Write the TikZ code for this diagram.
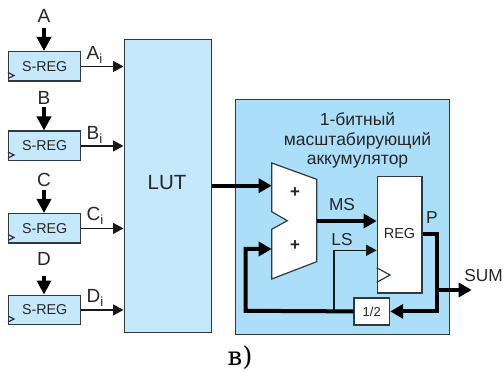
\documentclass[tikz,border=0pt]{standalone}
\usepackage{fontspec}
\setmainfont{Liberation Sans}
\newfontfamily\serifcyr{DejaVu Serif}
\usetikzlibrary{arrows.meta,calc}
\definecolor{lightb}{HTML}{C5E8FB}
\definecolor{accb}{HTML}{ABDFF9}
\definecolor{edge}{HTML}{2E3A40}
\tikzset{
  x=1pt,y=-1pt,
  sreg/.style={draw=edge,line width=1.4pt,fill=lightb,minimum width=72pt,minimum height=29.5pt,inner sep=0pt,font=\fontsize{14.3}{14.3}\selectfont,text=black!85,anchor=north west},
  lab/.style={inner sep=0pt,font=\fontsize{19}{19}\selectfont,text=black!85},
  small/.style={inner sep=0pt,font=\fontsize{17.3}{17.3}\selectfont,text=black!85},
  thin wire/.style={draw=black!90,line width=1.4pt,-{Triangle[length=10.5pt,width=11pt]}},
  thick wire/.style={draw=black,line width=4pt,-{Triangle[length=13pt,width=14pt]}},
  clk/.style={draw=edge,line width=1.2pt}
}
\begin{document}
\begin{tikzpicture}
\useasboundingbox (0,0) rectangle (503,371);
% S-registers
\node[sreg] (sa) at (8,51) {S-REG};
\node[sreg] (sb) at (8,130.5) {S-REG};
\node[sreg] (sc) at (8,213) {S-REG};
\node[sreg] (sd) at (8,294.5) {S-REG};
\foreach \y in {51,130.5,213,294.5}{
  \draw[clk] (8,\y+21.5) -- (14,\y+24.5) -- (8,\y+27.5);
}
\node[draw=edge,line width=1.4pt,fill=lightb,anchor=north west,minimum width=87.5pt,minimum height=293pt,inner sep=0pt] (lut) at (123.5,39) {};
\node[font=\fontsize{20.5}{20.5}\selectfont,text=black!85] at (167,183) {LUT};
% Input labels
\node[lab] (la) at (44,16) {A};
\node[lab] (lb) at (44,98) {B};
\node[lab] (lc) at (44,180) {C};
\node[lab] (ld) at (44,259) {D};
\coordinate (ta) at (44,28); \coordinate (tb) at (44,107);
\coordinate (tc) at (44,190); \coordinate (td) at (44,276);
\foreach \n in {a,b,c,d}{
  \draw[draw=black,line width=4pt,-{Triangle[length=14pt,width=14pt]}] (t\n) -- (s\n.north -| t\n);
  \draw[thin wire] (s\n.east) -- (s\n.east -| lut.west);
}
\node[lab,anchor=base west] at (86.5,59.5) {A\textsubscript{i}};
\node[lab,anchor=base west] at (86.5,140) {B\textsubscript{i}};
\node[lab,anchor=base west] at (86.5,220.5) {C\textsubscript{i}};
\node[lab,anchor=base west] at (86.5,302.5) {D\textsubscript{i}};
% Accumulator
\node[draw=edge,line width=1.4pt,fill=accb,anchor=north west,minimum width=214pt,minimum height=235pt,inner sep=0pt] (acc) at (235,99) {};
\node[small,align=center,font=\fontsize{17.5}{19.7}\selectfont] at (357.5,140.5) {1-битный\\масштабирующий\\аккумулятор};
% Adder
\draw[draw=edge,line width=1.2pt,fill=white] (271.7,163) -- (316.7,179.3) -- (316.7,261.7) -- (271.7,279) -- (271.7,229.3) -- (287.3,220.7) -- (271.7,211.7) -- cycle;
\coordinate (addin1) at (271.7,185.7);
\coordinate (addin2) at (271.7,249);
\coordinate (addout) at (316.7,221);
\node[small,font=\bfseries\fontsize{17}{17}\selectfont] (p1) at (295,193) {+};
\node[small,font=\bfseries\fontsize{17}{17}\selectfont] (p2) at (295,246) {+};
% REG
\node[draw=edge,line width=1.2pt,fill=white,anchor=north west,minimum width=44.7pt,minimum height=116.7pt,inner sep=0pt] (reg) at (376.7,175.7) {};
\node[inner sep=0pt,font=\fontsize{14.5}{14.5}\selectfont,text=black!85] at (399.5,234) {REG};
\draw[clk] (376.7,267.7) -- (390,275) -- (376.7,282.3);
% 1/2
\node[draw=edge,line width=1.2pt,fill=white,anchor=north west,minimum width=35.7pt,minimum height=27pt,inner sep=0pt,font=\fontsize{13}{13}\selectfont,text=black!85] (half) at (353.3,297.3) {1/2};
% Wires
\draw[thick wire] (lut.east |- addin1) -- (addin1);
\draw[thick wire] (addout) -- (addout -| reg.west);
\coordinate (lsin) at (376.7,250.3);
\coordinate (tap) at (334,310.8);
\draw[thin wire] (tap) -- (tap |- lsin) -- (lsin);
\coordinate (pc) at (436.7,234.3);
\draw[thick wire] (reg.east |- pc) -- (pc) -- (pc |- half.east) -- (half.east);
\coordinate (sumj) at (436.7,290);
\coordinate (sumt) at (471.7,290);
\draw[thick wire] (sumj) -- (sumt);
\coordinate (fb) at (245.7,310.8);
\draw[thick wire] (half.west) -- (fb) -- (fb |- addin2) -- (addin2);
% Labels
\node[small] at (342,205) {MS};
\node[small] at (342,240) {LS};
\node[small] at (432,218) {P};
\node[small] at (483.5,276) {SUM};
\node[inner sep=0pt,font=\serifcyr\fontsize{26}{26}\selectfont] at (240,358) {в)};
\end{tikzpicture}
\end{document}
